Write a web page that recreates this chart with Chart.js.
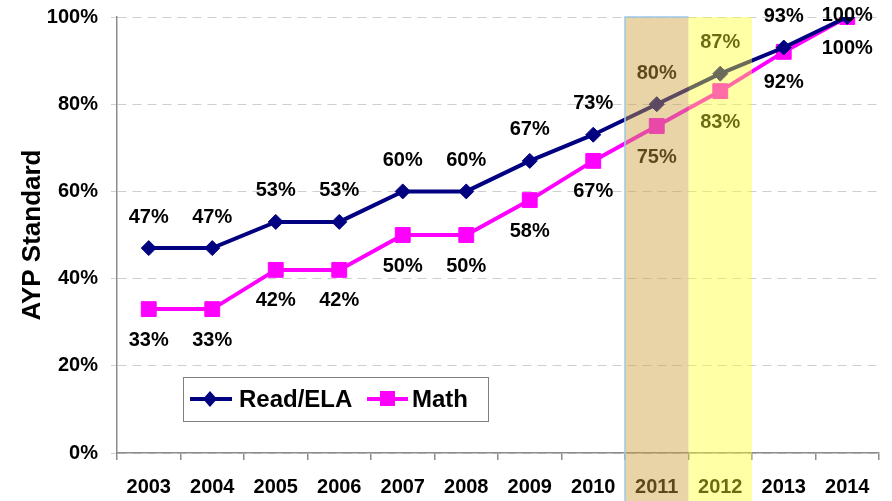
<!DOCTYPE html>
<html>
<head>
<meta charset="utf-8">
<script src="https://cdn.jsdelivr.net/npm/chart.js@4/dist/chart.umd.min.js"></script>
<style>
html,body{margin:0;padding:0;background:#fff;}
#wrap{width:892px;height:501px;position:relative;}
</style>
</head>
<body>
<div id="wrap"><canvas id="c" width="892" height="501"></canvas></div>
<script>
const years = ['2003','2004','2005','2006','2007','2008','2009','2010','2011','2012','2013','2014'];
const readELA = [47,47,53,53,60,60,67,73,80,87,93,100];
const math = [33,33,42,42,50,50,58,67,75,83,92,100];
const yTicks = [0,20,40,60,80,100];
const highlights = [
  {year:'2011', fill:'rgba(205,160,60,0.45)', edge:'#9cc8e8'},
  {year:'2012', fill:'rgba(255,255,40,0.42)', edge:null}
];

const FONT = '"Liberation Sans", Arial, sans-serif';

const labelPlugin = {
  id:'labels',
  afterDatasetsDraw(chart){
    const ctx = chart.ctx;
    ctx.save();
    ctx.font = 'bold 20px ' + FONT;
    ctx.fillStyle = '#000';
    ctx.textAlign = 'center';
    ctx.textBaseline = 'middle';
    chart.data.datasets.forEach((ds, di) => {
      const meta = chart.getDatasetMeta(di);
      meta.data.forEach((pt, i) => {
        let y = di === 0 ? pt.y - 31 : pt.y + 31;
        if (y < 15) y = 15;
        ctx.fillText(ds.data[i] + '%', pt.x, y);
      });
    });
    ctx.restore();
  },
  afterDraw(chart){
    const ctx = chart.ctx;
    const x = chart.scales.x, ca = chart.chartArea;
    const w = x.width / years.length;
    ctx.save();
    highlights.forEach(h => {
      const idx = years.indexOf(h.year);
      const cx = x.getPixelForValue(idx);
      const l = cx - w/2, r = cx + w/2;
      ctx.fillStyle = h.fill;
      ctx.fillRect(l, ca.top, r - l, chart.height - ca.top);
      if (h.edge){
        ctx.strokeStyle = h.edge;
        ctx.lineWidth = 1.5;
        ctx.beginPath();
        ctx.moveTo(l, chart.height); ctx.lineTo(l, ca.top); ctx.lineTo(r, ca.top);
        ctx.stroke();
      }
    });
    // legend box
    const bx = 183, by = 377, bw = 305, bh = 44;
    ctx.fillStyle = '#fff';
    ctx.fillRect(bx, by, bw, bh);
    ctx.strokeStyle = '#808080';
    ctx.lineWidth = 1;
    ctx.strokeRect(bx + 0.5, by + 0.5, bw, bh);
    const cy = by + bh/2;
    ctx.strokeStyle = '#000080'; ctx.lineWidth = 4;
    ctx.beginPath(); ctx.moveTo(190, cy); ctx.lineTo(232, cy); ctx.stroke();
    ctx.fillStyle = '#000080';
    ctx.beginPath(); ctx.moveTo(210, cy-8); ctx.lineTo(217, cy); ctx.lineTo(210, cy+8); ctx.lineTo(203, cy); ctx.closePath(); ctx.fill();
    ctx.fillStyle = '#000';
    ctx.font = 'bold 24px ' + FONT;
    ctx.textAlign = 'left'; ctx.textBaseline = 'middle';
    ctx.fillText('Read/ELA', 239, cy + 1);
    ctx.strokeStyle = '#FF00FF';
    ctx.beginPath(); ctx.moveTo(367, cy); ctx.lineTo(408, cy); ctx.stroke();
    ctx.fillStyle = '#FF00FF';
    ctx.fillRect(380, cy-8, 15, 15);
    ctx.fillStyle = '#000';
    ctx.fillText('Math', 412, cy + 1);
    ctx.restore();
  }
};

new Chart(document.getElementById('c'), {
  type:'line',
  data:{
    labels: years,
    datasets:[
      {label:'Read/ELA', data: readELA, borderColor:'#000080', backgroundColor:'#000080',
       borderWidth:4, pointStyle:'rectRot', pointRadius:7.5, pointBorderWidth:1, tension:0},
      {label:'Math', data: math, borderColor:'#FF00FF', backgroundColor:'#FF00FF',
       borderWidth:4, pointStyle:'rect', pointRadius:10.5, pointBorderWidth:1, tension:0}
    ]
  },
  options:{
    responsive:false,
    animation:false,
    layout:{padding:{top:17, right:13, left:0, bottom:0}},
    plugins:{legend:{display:false}, tooltip:{enabled:false}},
    scales:{
      x:{
        offset:true,
        grid:{offset:true, drawOnChartArea:false, drawTicks:true, tickLength:7, color:'#8c8c8c', lineWidth:1.5},
        border:{color:'#8c8c8c', width:1.5},
        ticks:{color:'#000', font:{family:FONT, size:20, weight:'bold'}, padding:15, maxRotation:0, autoSkip:false},
        afterFit(s){ s.height = 48; s.paddingLeft = 0; s.paddingRight = 0; }
      },
      y:{
        min:0, max:100,
        afterBuildTicks(s){ s.ticks = yTicks.map(v => ({value:v})); },
        grid:{color:'#cfcfcf', lineWidth:1, drawTicks:true, tickLength:6},
        border:{color:'#8c8c8c', width:1.5, dash:[9,6]},
        ticks:{color:'#000', font:{family:FONT, size:20, weight:'bold'}, padding:13, callback:v => v + '%'},
        title:{display:true, text:'AYP Standard', color:'#000', font:{family:FONT, size:26, weight:'bold'}, padding:{top:17,bottom:0}},
        afterFit(s){ s.width = 117; s.paddingTop = 0; s.paddingBottom = 0; }
      }
    }
  },
  plugins:[labelPlugin]
});
</script>
</body>
</html>
